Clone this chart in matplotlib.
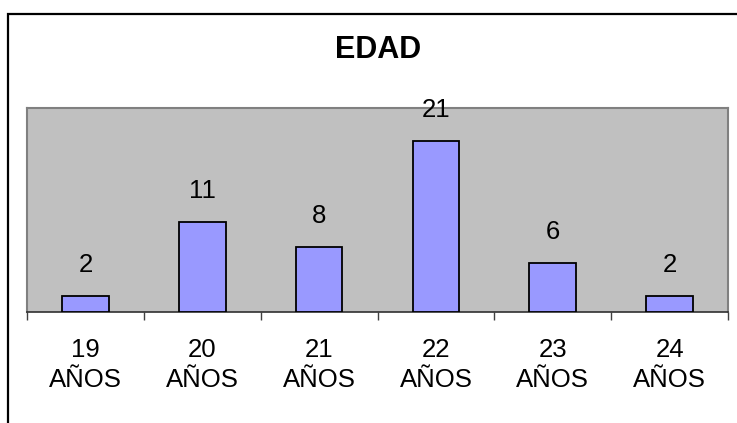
import matplotlib.pyplot as plt
from matplotlib.patches import Rectangle
import numpy as np

plt.rcParams['font.family'] = ['Liberation Sans', 'DejaVu Sans']

categories = ["19\nAÑOS", "20\nAÑOS", "21\nAÑOS", "22\nAÑOS", "23\nAÑOS", "24\nAÑOS"]
counts = [2, 11, 8, 21, 6, 2]

W, H = 737, 423
fig = plt.figure(figsize=(W / 100, H / 100), dpi=100)

# outer chart frame (cut off on the right and bottom)
fig.patches.append(Rectangle((8 / W, -0.1), 1.2, (H - 14) / H + 0.1,
                             transform=fig.transFigure, fill=False,
                             edgecolor="black", linewidth=1.6))

ax = fig.add_axes([27 / W, 111 / H, 701 / W, 204 / H])
ax.set_facecolor("#C0C0C0")
x = np.arange(len(categories))
ax.bar(x, counts, width=0.4, color="#9999FF", edgecolor="black", linewidth=1.3, zorder=3)

for xi, v in zip(x, counts):
    ax.annotate(str(v), (xi, v), xytext=(0, 13.5), textcoords="offset points",
                ha="center", va="bottom", fontsize=18.5, annotation_clip=False)

ax.set_xlim(-0.5, len(categories) - 0.5)
ax.set_ylim(0, 25)
ax.set_yticks([])
ax.set_xticks(x)
ax.set_xticklabels(categories, fontsize=18.5, linespacing=1.32)
ax.tick_params(axis="x", which="major", length=0, pad=19)
ax.set_xticks(np.arange(-0.5, len(categories)), minor=True)
ax.tick_params(axis="x", which="minor", length=6, width=1, color="#404040")

for side in ["top", "left", "right"]:
    ax.spines[side].set_color("#808080")
    ax.spines[side].set_linewidth(1.5)
ax.spines["bottom"].set_color("#303030")
ax.spines["bottom"].set_linewidth(1.2)

fig.text(378 / W, 1 - 50 / H, "EDAD", ha="center", va="center",
         fontsize=22, fontweight="bold")

fig.savefig("out.png", dpi=100)
